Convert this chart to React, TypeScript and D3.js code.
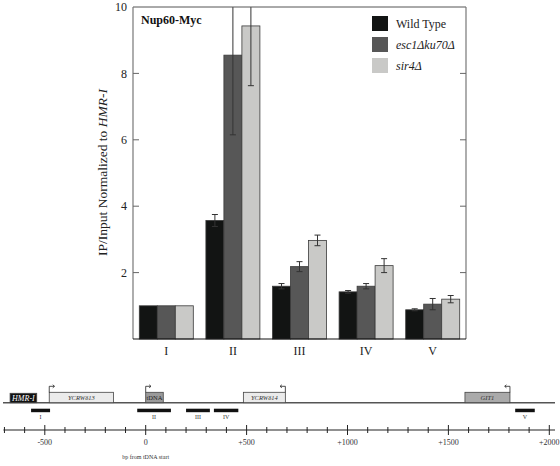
import React from "react";
import * as d3 from "d3";

const categories = ["I", "II", "III", "IV", "V"];
const seriesNames = ["Wild Type", "esc1Δku70Δ", "sir4Δ"];
const seriesItalic = [false, true, true];
const seriesColors = ["#121413", "#575757", "#c9c9c7"];
const wildType = [1.0, 3.57, 1.59, 1.42, 0.88];
const wildTypeErr = [0, 0.18, 0.08, 0.04, 0.03];
const esc1ku70 = [1.0, 8.55, 2.18, 1.59, 1.05];
const esc1ku70Err = [0, 2.4, 0.15, 0.08, 0.17];
const sir4 = [1.0, 9.43, 2.97, 2.21, 1.2];
const sir4Err = [0, 1.8, 0.16, 0.21, 0.11];
const yTicks = [2, 4, 6, 8, 10];

const seriesValues = [wildType, esc1ku70, sir4];
const seriesErrors = [wildTypeErr, esc1ku70Err, sir4Err];

// genomic map (bp from tDNA start)
const geneNames = ["HMR-I", "YCRWδ13", "tDNA", "YCRWδ14", "GIT1"];
const geneStarts = [-672, -478, 0, 484, 1582];
const geneEnds = [-540, -160, 87, 692, 1805];
const geneFills = ["#111111", "#ebebeb", "#9a9a9a", "#ebebeb", "#aaaaaa"];
const geneTextColors = ["#ffffff", "#333333", "#222222", "#333333", "#333333"];
const geneArrow = [0, 1, 1, -1, -1]; // 1: start pointing right, -1: end pointing left
const ampliconNames = ["I", "II", "III", "IV", "V"];
const ampliconStarts = [-568, -42, 200, 338, 1831];
const ampliconEnds = [-474, 125, 318, 459, 1928];
const bpMajorTicks = [-500, 0, 500, 1000, 1500, 2000];
const bpMajorLabels = ["-500", "0", "+500", "+1000", "+1500", "+2000"];

const FONT = "'Liberation Serif', 'Times New Roman', serif";

export default function App() {
  const left = 133, right = 466, top = 7, bottom = 339;
  const x0 = d3.scaleBand<string>().domain(categories).range([left, right]).padding(0);
  const x1 = d3.scaleBand<string>().domain(seriesNames).range([0, x0.bandwidth()]).paddingInner(0).paddingOuter(0.35);
  const y = d3.scaleLinear().domain([0, 10]).range([bottom, top]);

  const bp = d3.scaleLinear().domain([-500, 2000]).range([44.8, 549.3]);
  const lineY = 402.7;
  const axisY = 430;
  const minorTicks = d3.range(-700, 2001, 100);

  return (
    <svg width={560} height={466} style={{ display: "block", position: "absolute", left: 0, top: 0 }} fontFamily={FONT}>
      <defs>
        <clipPath id="plotclip">
          <rect x={left} y={top} width={right - left} height={bottom - top} />
        </clipPath>
      </defs>
      <rect width={560} height={466} fill="#fff" />
      {/* bars */}
      {categories.map((c, ci) => (
        <g key={c}>
          {seriesNames.map((s, si) => {
            const v = seriesValues[si][ci];
            const bx = (x0(c) as number) + (x1(s) as number);
            return (
              <rect key={s} x={bx} y={y(v)} width={x1.bandwidth()} height={y(0) - y(v)}
                fill={seriesColors[si]} stroke="#3a3a3a" strokeWidth={0.8} />
            );
          })}
        </g>
      ))}
      {/* error bars */}
      <g clipPath="url(#plotclip)">
        {categories.map((c, ci) =>
          seriesNames.map((s, si) => {
            const e = seriesErrors[si][ci];
            if (!e) return null;
            const v = seriesValues[si][ci];
            const cx = (x0(c) as number) + (x1(s) as number) + x1.bandwidth() / 2;
            return (
              <g key={c + s} stroke="#333" strokeWidth={1}>
                <line x1={cx} x2={cx} y1={y(v + e)} y2={y(v - e)} />
                <line x1={cx - 3} x2={cx + 3} y1={y(v + e)} y2={y(v + e)} />
                <line x1={cx - 3} x2={cx + 3} y1={y(v - e)} y2={y(v - e)} />
              </g>
            );
          })
        )}
      </g>
      {/* frame */}
      <line x1={left} x2={right} y1={top} y2={top} stroke="#555" strokeWidth={1} />
      <line x1={left} x2={left} y1={top} y2={bottom} stroke="#777" strokeWidth={1.2} />
      <line x1={right} x2={right} y1={top} y2={bottom} stroke="#777" strokeWidth={1.2} />
      <line x1={left} x2={right} y1={bottom} y2={bottom} stroke="#111" strokeWidth={1.2} />
      {yTicks.map((t) => (
        <g key={t}>
          {t < 10 && <line x1={left} x2={left + 6} y1={y(t)} y2={y(t)} stroke="#666" />}
          {t < 10 && <line x1={right - 6} x2={right} y1={y(t)} y2={y(t)} stroke="#666" />}
          <text x={left - 6} y={y(t)} dy="0.35em" textAnchor="end" fontSize={12} fill="#222">{t}</text>
        </g>
      ))}
      {categories.map((c) => (
        <text key={c} x={(x0(c) as number) + x0.bandwidth() / 2} y={bottom + 16} textAnchor="middle" fontSize={12} fill="#222">{c}</text>
      ))}
      <text transform={`translate(${107},${172.5}) rotate(-90)`} textAnchor="middle" fontSize={13.5} fill="#222">
        IP/Input Normalized to <tspan fontStyle="italic">HMR-I</tspan>
      </text>
      <text x={141} y={24} fontSize={12} fontWeight="bold" fill="#111">Nup60-Myc</text>
      {/* legend */}
      {seriesNames.map((s, i) => (
        <g key={s} transform={`translate(372,${16 + i * 21})`}>
          <rect width={16} height={15} fill={seriesColors[i]} />
          <text x={24} y={8} dy="0.35em" fontSize={12} fill="#222" fontStyle={seriesItalic[i] ? "italic" : "normal"}>{s}</text>
        </g>
      ))}

      {/* genomic map */}
      <line x1={3} x2={555} y1={lineY} y2={lineY} stroke="#555" strokeWidth={1.5} />
      {geneNames.map((g, i) => {
        const gx0 = bp(geneStarts[i]);
        const gx1 = bp(geneEnds[i]);
        const gy = i === 0 ? 393.3 : 392.3;
        const ax = geneArrow[i] === 1 ? gx0 : gx1;
        const dir = geneArrow[i];
        return (
          <g key={g}>
            <rect x={gx0} y={gy} width={gx1 - gx0} height={lineY - gy} fill={geneFills[i]} stroke="#444" strokeWidth={0.8} />
            <text x={(gx0 + gx1) / 2} y={(gy + lineY) / 2} dy="0.35em" textAnchor="middle" fontSize={i === 0 ? 8 : 6.5}
              fontStyle={i === 2 ? "normal" : "italic"} fill={geneTextColors[i]}>{g}</text>
            {dir !== 0 && (
              <g stroke="#222" strokeWidth={0.8} fill="none">
                <path d={`M${ax},${gy} V${gy - 6} h${dir * 5}`} />
                <path d={`M${ax + dir * 3.5},${gy - 7.5} l${dir * 1.8},1.5 l${-dir * 1.8},1.5`} />
              </g>
            )}
          </g>
        );
      })}
      {ampliconNames.map((a, i) => {
        const ax0 = bp(ampliconStarts[i]);
        const ax1 = bp(ampliconEnds[i]);
        return (
          <g key={a}>
            <rect x={ax0} y={408.7} width={ax1 - ax0} height={3.5} fill="#111" />
            <text x={(ax0 + ax1) / 2} y={417} dy="0.35em" textAnchor="middle" fontSize={6} fill="#333">{a}</text>
          </g>
        );
      })}
      <line x1={bp(-700) - 1} x2={555} y1={axisY} y2={axisY} stroke="#222" strokeWidth={1.2} />
      {minorTicks.map((t) => (
        <line key={t} x1={bp(t)} x2={bp(t)} y1={axisY - (t % 500 === 0 ? 5 : 3)} y2={axisY + (t % 500 === 0 ? 5 : 3)} stroke="#222" strokeWidth={1} />
      ))}
      {bpMajorTicks.map((t, i) => (
        <text key={t} x={bp(t)} y={444.5} textAnchor="middle" fontSize={8} fill="#333">{bpMajorLabels[i]}</text>
      ))}
      <text x={bp(0)} y={459} textAnchor="middle" fontSize={6} fill="#333">bp from tDNA start</text>
    </svg>
  );
}
